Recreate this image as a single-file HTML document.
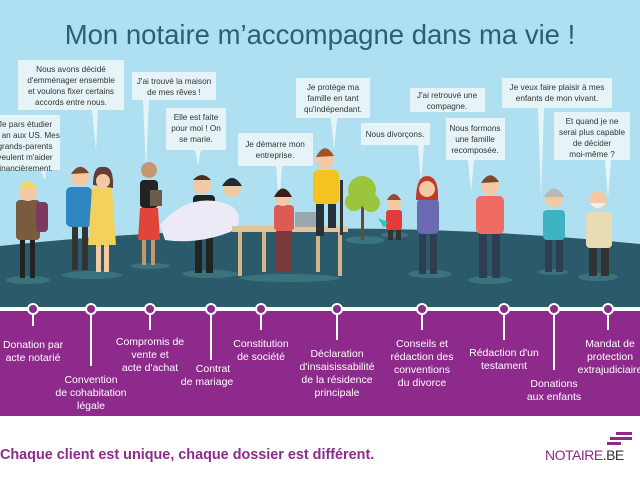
<!DOCTYPE html>
<html><head><meta charset="utf-8"><style>
html,body{margin:0;padding:0;width:640px;height:480px;overflow:hidden;background:#fff}
svg{display:block}
text{font-family:"Liberation Sans",sans-serif}
.b{fill:#e6f4f8}
.bt{font-size:8.2px;fill:#333;text-anchor:middle}
.lt{font-size:10.5px;fill:#fff;text-anchor:middle}
</style></head><body>
<svg width="640" height="480" viewBox="0 0 640 480" xmlns="http://www.w3.org/2000/svg">
<rect x="0" y="0" width="640" height="312" fill="#aee0f2"/>
<text x="320" y="44" font-size="27.5" fill="#2c5f72" text-anchor="middle">Mon notaire m’accompagne dans ma vie !</text>
<!-- ground -->
<path d="M0 246 Q320 212 640 244 L640 312 L0 312 Z" fill="#2b5a6b"/>
<!-- shadows -->
<g fill="#3e7a80" opacity="0.8">
<ellipse cx="28" cy="280" rx="22" ry="4"/><ellipse cx="92" cy="275" rx="30" ry="4"/>
<ellipse cx="150" cy="266" rx="20" ry="3"/><ellipse cx="210" cy="274" rx="28" ry="4"/>
<ellipse cx="290" cy="278" rx="50" ry="4"/><ellipse cx="365" cy="240" rx="20" ry="4"/>
<ellipse cx="395" cy="235" rx="14" ry="3"/><ellipse cx="430" cy="274" rx="22" ry="4"/>
<ellipse cx="490" cy="280" rx="22" ry="4"/><ellipse cx="553" cy="272" rx="16" ry="3"/>
<ellipse cx="598" cy="277" rx="20" ry="4"/></g>
<!-- bubbles -->
<g>
<rect class="b" x="-5" y="115" width="65" height="55"/><path class="b" d="M40 170 L46 170 L45 180Z"/>
<text class="bt" x="25" y="127">Je pars étudier<tspan x="25" dy="11">un an aux US. Mes</tspan><tspan x="25" dy="11">grands-parents</tspan><tspan x="25" dy="11">veulent m'aider</tspan><tspan x="25" dy="11">financièrement.</tspan></text>
<rect class="b" x="18" y="60" width="106" height="50"/><path class="b" d="M92 110 L98 110 L96 150Z"/>
<text class="bt" x="71" y="72">Nous avons décidé<tspan x="71" dy="11">d'emménager ensemble</tspan><tspan x="71" dy="11">et voulons fixer certains</tspan><tspan x="71" dy="11">accords entre nous.</tspan></text>
<rect class="b" x="132" y="72" width="84" height="28"/><path class="b" d="M143 100 L149 100 L146 170Z"/>
<text class="bt" x="174" y="84">J'ai trouvé la maison<tspan x="174" dy="11">de mes rêves !</tspan></text>
<rect class="b" x="166" y="108" width="60" height="42"/><path class="b" d="M195 150 L201 150 L198 165Z"/>
<text class="bt" x="196" y="120">Elle est faite<tspan x="196" dy="11">pour moi ! On</tspan><tspan x="196" dy="11">se marie.</tspan></text>
<rect class="b" x="238" y="133" width="75" height="33"/><path class="b" d="M276 166 L282 166 L279 205Z"/>
<text class="bt" x="275" y="147">Je démarre mon<tspan x="275" dy="11">entreprise.</tspan></text>
<rect class="b" x="296" y="78" width="74" height="40"/><path class="b" d="M331 118 L337 118 L334 150Z"/>
<text class="bt" x="333" y="90">Je protège ma<tspan x="333" dy="11">famille en tant</tspan><tspan x="333" dy="11">qu'indépendant.</tspan></text>
<rect class="b" x="361" y="123" width="69" height="22"/><path class="b" d="M418 145 L424 145 L421 182Z"/>
<text class="bt" x="395" y="137">Nous divorçons.</text>
<rect class="b" x="410" y="88" width="75" height="24"/>
<text class="bt" x="447" y="98">J'ai retrouvé une<tspan x="447" dy="11">compagne.</tspan></text>
<rect class="b" x="446" y="118" width="59" height="42"/><path class="b" d="M468 160 L474 160 L471 192Z"/>
<text class="bt" x="475" y="131">Nous formons<tspan x="475" dy="11">une famille</tspan><tspan x="475" dy="11">recomposée.</tspan></text>
<rect class="b" x="502" y="78" width="110" height="30"/><path class="b" d="M538 108 L544 108 L541 200Z"/>
<text class="bt" x="557" y="90">Je veux faire plaisir à mes<tspan x="557" dy="11">enfants de mon vivant.</tspan></text>
<rect class="b" x="554" y="112" width="76" height="48"/><path class="b" d="M605 160 L611 160 L608 198Z"/>
<text class="bt" x="592" y="124">Et quand je ne<tspan x="592" dy="11">serai plus capable</tspan><tspan x="592" dy="11">de décider</tspan><tspan x="592" dy="11">moi-même ?</tspan></text>
</g>
<!-- people -->
<g>
<rect x="20" y="238" width="5" height="40" fill="#222"/><rect x="30" y="238" width="5" height="40" fill="#222"/>
<rect x="16" y="200" width="24" height="40" rx="4" fill="#7a5b3e"/><rect x="36" y="202" width="12" height="30" rx="4" fill="#7b3b5e"/>
<circle cx="28" cy="192" r="9" fill="#f3c9a3"/><path d="M19 188 Q28 174 37 188Z" fill="#f3d66a"/>
<rect x="72" y="225" width="6" height="45" fill="#333"/><rect x="82" y="225" width="6" height="45" fill="#333"/>
<rect x="66" y="187" width="26" height="40" rx="5" fill="#2f86c2"/><circle cx="80" cy="177" r="9" fill="#f3c9a3"/><path d="M71 174 Q80 160 89 173Z" fill="#7a4a2e"/>
<path d="M92 188 L112 188 L116 245 L88 245Z" fill="#f2d15c"/><rect x="96" y="245" width="5" height="27" fill="#f3c9a3"/><rect x="104" y="245" width="5" height="27" fill="#f3c9a3"/>
<circle cx="103" cy="180" r="9" fill="#f3c9a3"/><path d="M93 185 Q93 165 103 167 Q114 165 113 188Z" fill="#5a2a22" opacity="0.9"/><circle cx="103" cy="181" r="7" fill="#f3c9a3"/>
<rect x="140" y="180" width="18" height="28" rx="4" fill="#222"/><path d="M140 208 L158 208 L160 240 L138 240Z" fill="#e0453a"/>
<rect x="142" y="240" width="4" height="25" fill="#c9956f"/><rect x="151" y="240" width="4" height="25" fill="#c9956f"/>
<circle cx="149" cy="170" r="8" fill="#c9956f"/><rect x="150" y="190" width="12" height="16" fill="#6c5a4a"/>
<rect x="193" y="195" width="22" height="40" rx="4" fill="#222"/><rect x="195" y="235" width="7" height="38" fill="#222"/><rect x="206" y="235" width="7" height="38" fill="#222"/>
<circle cx="202" cy="185" r="9" fill="#f3c9a3"/><path d="M193 180 Q202 170 211 180Z" fill="#4a2e1e"/>
<path d="M160 225 Q190 190 230 205 Q245 215 235 230 Q200 245 165 240Z" fill="#eceaf6"/>
<circle cx="232" cy="188" r="9" fill="#f3c9a3"/><path d="M222 186 Q232 170 242 186Z" fill="#1f2a3a"/>
<rect x="232" y="226" width="116" height="6" fill="#e0c49a"/><rect x="238" y="232" width="4" height="44" fill="#d4b48a"/><rect x="338" y="232" width="4" height="44" fill="#d4b48a"/><rect x="262" y="232" width="4" height="40" fill="#d4b48a"/><rect x="316" y="232" width="4" height="40" fill="#d4b48a"/>
<rect x="295" y="212" width="24" height="15" fill="#9aa7ae"/>
<rect x="274" y="205" width="20" height="26" rx="4" fill="#e05a55"/><rect x="276" y="231" width="16" height="40" fill="#7a3a3a"/>
<circle cx="283" cy="198" r="8" fill="#f3c9a3"/><path d="M274 197 Q283 180 292 197Z" fill="#3a1f1a"/>
<rect x="313" y="170" width="26" height="34" rx="5" fill="#f4c31f"/><rect x="316" y="204" width="8" height="32" fill="#263238"/><rect x="328" y="204" width="8" height="24" fill="#263238"/>
<circle cx="325" cy="160" r="9" fill="#f3c9a3"/><path d="M316 157 Q325 140 334 156Z" fill="#a0522d"/><rect x="340" y="180" width="3" height="55" fill="#333"/>
<rect x="361" y="200" width="3" height="40" fill="#6b4a2a"/><circle cx="362" cy="190" r="14" fill="#9bc53d"/><circle cx="354" cy="202" r="9" fill="#9bc53d"/><circle cx="371" cy="203" r="9" fill="#9bc53d"/>
<rect x="386" y="210" width="16" height="20" rx="3" fill="#e23b3b"/><rect x="388" y="230" width="5" height="10" fill="#333"/><rect x="396" y="230" width="5" height="10" fill="#333"/>
<circle cx="394" cy="203" r="7" fill="#f3c9a3"/><path d="M387 200 Q394 188 401 200Z" fill="#9a4a2a"/><path d="M378 218 L388 222 L384 228Z" fill="#2ec4b6"/>
<rect x="417" y="198" width="22" height="36" rx="5" fill="#6a6bb0"/><rect x="419" y="234" width="7" height="40" fill="#2c3e50"/><rect x="430" y="234" width="7" height="40" fill="#2c3e50"/>
<path d="M416 200 Q416 176 427 176 Q439 176 438 200Z" fill="#c0392b"/><circle cx="427" cy="189" r="8" fill="#f3c9a3"/>
<rect x="476" y="196" width="28" height="38" rx="5" fill="#f06b63"/><rect x="479" y="234" width="8" height="44" fill="#2c3e50"/><rect x="492" y="234" width="8" height="44" fill="#2c3e50"/>
<circle cx="490" cy="186" r="9" fill="#f3c9a3"/><path d="M481 183 Q490 168 499 182Z" fill="#7a4a2e"/>
<rect x="543" y="210" width="22" height="30" rx="4" fill="#3fb3c4"/><rect x="545" y="240" width="7" height="32" fill="#2c3e50"/><rect x="556" y="240" width="7" height="32" fill="#2c3e50"/>
<circle cx="554" cy="198" r="9" fill="#f3c9a3"/><path d="M544 197 Q554 180 564 197Z" fill="#b8b8b8"/>
<rect x="586" y="212" width="26" height="36" rx="4" fill="#e8dcb3"/><rect x="589" y="248" width="8" height="28" fill="#333"/><rect x="601" y="248" width="8" height="28" fill="#333"/>
<circle cx="598" cy="200" r="9" fill="#f3c9a3"/><path d="M590 203 Q598 214 606 203Z" fill="#eee"/>
</g>
<!-- purple band -->
<rect x="0" y="311" width="640" height="105" fill="#8e2a8b"/>
<rect x="0" y="307" width="640" height="4" fill="#ffffff"/>
<g stroke="#fff" stroke-width="2" fill="#8e2a8b">
<line x1="33" y1="315" x2="33" y2="326"/><line x1="91" y1="315" x2="91" y2="366"/><line x1="150" y1="315" x2="150" y2="330"/>
<line x1="211" y1="315" x2="211" y2="360"/><line x1="261" y1="315" x2="261" y2="330"/><line x1="337" y1="315" x2="337" y2="340"/>
<line x1="422" y1="315" x2="422" y2="330"/><line x1="504" y1="315" x2="504" y2="340"/><line x1="554" y1="315" x2="554" y2="370"/>
<line x1="608" y1="315" x2="608" y2="330"/>
<circle cx="33" cy="309" r="5"/><circle cx="91" cy="309" r="5"/><circle cx="150" cy="309" r="5"/><circle cx="211" cy="309" r="5"/>
<circle cx="261" cy="309" r="5"/><circle cx="337" cy="309" r="5"/><circle cx="422" cy="309" r="5"/><circle cx="504" cy="309" r="5"/>
<circle cx="554" cy="309" r="5"/><circle cx="608" cy="309" r="5"/>
</g>
<g>
<text class="lt" x="33" y="348">Donation par<tspan x="33" dy="13">acte notarié</tspan></text>
<text class="lt" x="91" y="383">Convention<tspan x="91" dy="13">de cohabitation</tspan><tspan x="91" dy="13">légale</tspan></text>
<text class="lt" x="150" y="345">Compromis de<tspan x="150" dy="13">vente et</tspan><tspan x="150" dy="13">acte d'achat</tspan></text>
<text class="lt" x="213" y="372">Contrat<tspan x="207" dy="13">de mariage</tspan></text>
<text class="lt" x="261" y="347">Constitution<tspan x="261" dy="13">de société</tspan></text>
<text class="lt" x="337" y="357">Déclaration<tspan x="337" dy="13">d'insaisissabilité</tspan><tspan x="337" dy="13">de la résidence</tspan><tspan x="337" dy="13">principale</tspan></text>
<text class="lt" x="422" y="347">Conseils et<tspan x="422" dy="13">rédaction des</tspan><tspan x="422" dy="13">conventions</tspan><tspan x="422" dy="13">du divorce</tspan></text>
<text class="lt" x="504" y="356">Rédaction d'un<tspan x="504" dy="13">testament</tspan></text>
<text class="lt" x="554" y="387">Donations<tspan x="554" dy="13">aux enfants</tspan></text>
<text class="lt" x="610" y="347">Mandat de<tspan x="610" dy="13">protection</tspan><tspan x="610" dy="13">extrajudiciaire</tspan></text>
</g>
<!-- footer -->
<text x="0" y="459" font-size="14.4" font-weight="bold" fill="#8e2a8b">Chaque client est unique, chaque dossier est différent.</text>
<g fill="#8e2a8b"><rect x="616" y="432" width="16" height="3"/><rect x="610" y="437" width="22" height="3"/><rect x="607" y="442" width="14" height="3"/></g>
<text x="545" y="460" font-size="14" fill="#8e2a8b" letter-spacing="-0.5">NOTAIRE<tspan fill="#333">.BE</tspan></text>
</svg>
</body></html>
